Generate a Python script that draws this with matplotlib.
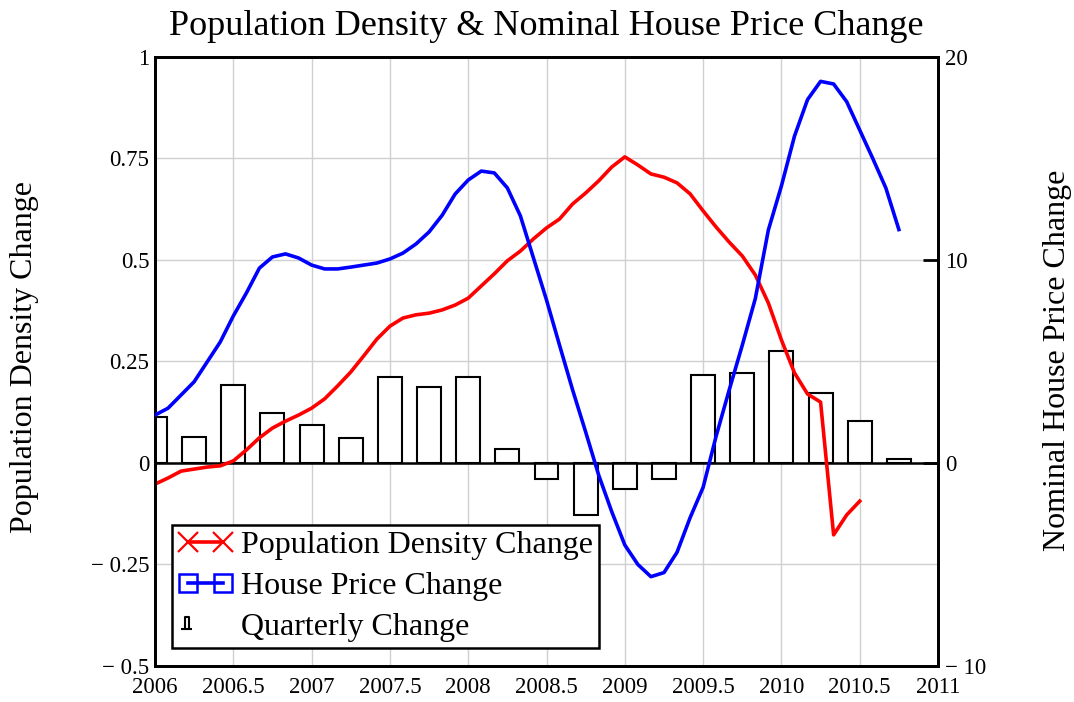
import numpy as np
import matplotlib
matplotlib.use('Agg')
import matplotlib.pyplot as plt
from matplotlib.lines import Line2D
from matplotlib.path import Path
from matplotlib.legend_handler import HandlerLine2D

# monthly series, starting Jan 2006
pop_density = [-0.052, -0.037, -0.020, -0.015, -0.010, -0.007, 0.005, 0.032, 0.062, 0.086,
               0.103, 0.118, 0.135, 0.158, 0.190, 0.224, 0.264, 0.305, 0.337, 0.357,
               0.365, 0.369, 0.377, 0.389, 0.406, 0.436, 0.466, 0.498, 0.522, 0.552,
               0.579, 0.601, 0.638, 0.665, 0.695, 0.729, 0.754, 0.734, 0.712, 0.704,
               0.690, 0.663, 0.621, 0.581, 0.544, 0.510, 0.463, 0.394, 0.303, 0.222,
               0.170, 0.150, -0.177, -0.128, -0.094]
house_price = [2.36, 2.70, 3.35, 4.00, 4.98, 5.96, 7.24, 8.37, 9.60, 10.15,
               10.30, 10.10, 9.75, 9.56, 9.56, 9.65, 9.75, 9.85, 10.05, 10.34,
               10.79, 11.38, 12.20, 13.25, 13.94, 14.38, 14.29, 13.55, 12.17, 10.10,
               8.03, 5.80, 3.60, 1.53, -0.60, -2.40, -4.04, -5.00, -5.60, -5.40,
               -4.40, -2.70, -1.20, 1.33, 3.60, 5.80, 8.10, 11.48, 13.65, 16.10,
               17.90, 18.80, 18.67, 17.80, 16.40, 15.00, 13.55, 11.50]
# quarterly change (left axis units)
quarterly = [0.113, 0.064, 0.192, 0.123, 0.094, 0.062, 0.212, 0.187, 0.212, 0.034,
             -0.039, -0.128, -0.064, -0.039, 0.217, 0.222, 0.276, 0.172, 0.103, 0.010]

x_pop = 2006 + np.arange(len(pop_density)) / 12
x_house = 2006 + np.arange(len(house_price)) / 12
x_q = 2006 + np.arange(len(quarterly)) * 0.25

plt.rcParams['font.family'] = ['Liberation Serif', 'DejaVu Serif']


def minus_fmt(v):
    s = f'{abs(v):g}'
    return ('\u2212 ' + s) if v < 0 else s


fig = plt.figure(figsize=(10.74, 7.02), dpi=100)
ax = fig.add_axes([0.1443, 0.0513, 0.7291, 0.8675])
ax2 = ax.twinx()

ax.bar(x_q, quarterly, width=0.153, facecolor='white', edgecolor='black',
       linewidth=1.5, zorder=2)
ax.axhline(0, color='black', linewidth=1.8, zorder=3)
ax.plot(x_pop, pop_density, color='#ff0000', linewidth=2.6, zorder=4)
ax2.plot(x_house, house_price, color='#0000ff', linewidth=2.6, zorder=4)

ax.set_xlim(2006, 2011)
ax.set_ylim(-0.5, 1)
ax2.set_ylim(-10, 20)

xt = np.arange(2006, 2011.01, 0.5)
ax.set_xticks(xt)
ax.set_xticklabels([f'{v:g}' for v in xt])
yt = [-0.5, -0.25, 0, 0.25, 0.5, 0.75, 1]
ax.set_yticks(yt)
ax.set_yticklabels([minus_fmt(v) for v in yt])
yt2 = [-10, 0, 10, 20]
ax2.set_yticks(yt2)
ax2.set_yticklabels([minus_fmt(v) for v in yt2])

ax.grid(True, color='#d0d0d0', linewidth=1.0)
ax.set_axisbelow(True)
ax.tick_params(axis='y', length=0, labelsize=16.5, pad=4)
ax.tick_params(axis='x', length=0, labelsize=16.5, pad=8)
ax2.tick_params(axis='y', direction='in', length=11, width=2, labelsize=16.5, pad=5)

for a in (ax, ax2):
    for sp in a.spines.values():
        sp.set_linewidth(2)

ax.set_title('Population Density & Nominal House Price Change', fontsize=26, pad=16)
fig.text(25 / 1074, 0.491, 'Population Density Change', rotation=90,
         ha='center', va='center', fontsize=23)
fig.text(1057 / 1074, 0.487, 'Nominal House Price Change', rotation=90,
         ha='center', va='center', fontsize=23)

# small "bar" glyph for the legend entry of the quarterly bars
verts = [(-1.0, -0.25), (-0.55, -0.25), (-0.85, -0.25), (-0.85, 0.25),
         (-0.7, 0.25), (-0.7, -0.25)]
codes = [Path.MOVETO, Path.LINETO, Path.MOVETO, Path.LINETO, Path.LINETO, Path.LINETO]
bar_glyph = Path(verts, codes)

handles = [
    Line2D([], [], color='#ff0000', linewidth=2.6, marker='x', markersize=15,
           markeredgewidth=1.6),
    Line2D([], [], color='#0000ff', linewidth=2.6, marker='s', markersize=13,
           markerfacecolor='none', markeredgewidth=1.8),
    Line2D([], [], color='black', linestyle='none', marker=bar_glyph, markersize=36,
           markeredgewidth=1.5, markerfacecolor='none'),
]
labels = ['Population Density Change', 'House Price Change', 'Quarterly Change']
leg = ax2.legend(handles, labels, loc='lower left', bbox_to_anchor=(0.0217, 0.0296),
                 borderaxespad=0, fontsize=23, numpoints=2, handlelength=1.7,
                 handletextpad=0.25, labelspacing=0.35, borderpad=0.2,
                 fancybox=False, framealpha=1, edgecolor='black',
                 handler_map={handles[2]: HandlerLine2D(numpoints=1)})
leg.get_frame().set_linewidth(1.8)

fig.savefig('out.png', dpi=100)
